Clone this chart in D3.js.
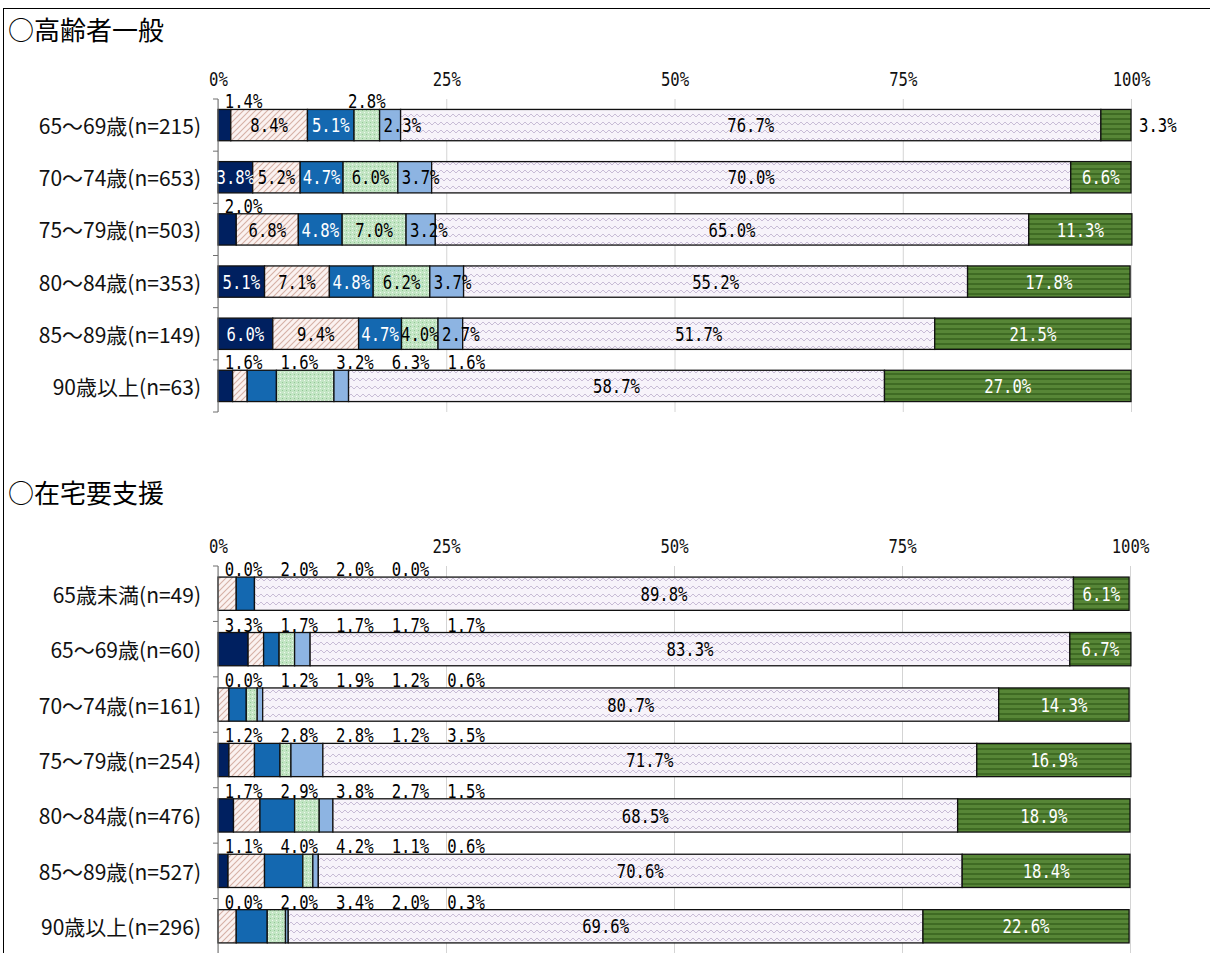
<!DOCTYPE html>
<html>
<head>
<meta charset="utf-8">
<script src="https://cdn.jsdelivr.net/npm/d3@7"></script>
<style>
    body { margin: 0; background: #fff; }
    svg { display: block; }
    .title { font-family: "Noto Sans CJK JP", sans-serif; font-size: 26px; fill: #000; }
    .cat { font-family: "Noto Sans CJK JP", sans-serif; font-size: 21px; fill: #111; }
    .num { font-family: "DejaVu Sans Mono", monospace; }
</style>
</head>
<body>
<div id="chart"></div>
<script>
// answer categories, stacked left to right
var seriesKeys = ["s1", "s2", "s3", "s4", "s5", "s6", "s7"]
var tickValues = [0, 25, 50, 75, 100]

var generalTitle = "○高齢者一般"
var generalCategories = ["65～69歳(n=215)", "70～74歳(n=653)", "75～79歳(n=503)",
    "80～84歳(n=353)", "85～89歳(n=149)", "90歳以上(n=63)"]
var generalValues = [
    [1.4, 8.4, 5.1, 2.8, 2.3, 76.7, 3.3],
    [3.8, 5.2, 4.7, 6.0, 3.7, 70.0, 6.6],
    [2.0, 6.8, 4.8, 7.0, 3.2, 65.0, 11.3],
    [5.1, 7.1, 4.8, 6.2, 3.7, 55.2, 17.8],
    [6.0, 9.4, 4.7, 4.0, 2.7, 51.7, 21.5],
    [1.6, 1.6, 3.2, 6.3, 1.6, 58.7, 27.0]
]

var supportTitle = "○在宅要支援"
var supportCategories = ["65歳未満(n=49)", "65～69歳(n=60)", "70～74歳(n=161)",
    "75～79歳(n=254)", "80～84歳(n=476)", "85～89歳(n=527)", "90歳以上(n=296)"]
var supportValues = [
    [0.0, 2.0, 2.0, 0.0, null, 89.8, 6.1],
    [3.3, 1.7, 1.7, 1.7, 1.7, 83.3, 6.7],
    [0.0, 1.2, 1.9, 1.2, 0.6, 80.7, 14.3],
    [1.2, 2.8, 2.8, 1.2, 3.5, 71.7, 16.9],
    [1.7, 2.9, 3.8, 2.7, 1.5, 68.5, 18.9],
    [1.1, 4.0, 4.2, 1.1, 0.6, 70.6, 18.4],
    [0.0, 2.0, 3.4, 2.0, 0.3, 69.6, 22.6]
]

!(function(){
    "use strict"

    var width = 1210, height = 953
    var svg = d3.select("#chart").append("svg")
        .attr("width", width).attr("height", height)

    var fills = ["#002060", "url(#pinkHatch)", "#1468b0", "url(#greenDots)",
        "#8db4e2", "url(#lavWave)", "url(#greenStripe)"]
    var labelColors = ["#fff", "#000", "#fff", "#000", "#000", "#000", "#fff"]
    var fmt = d3.format(".1f")

    makePatterns()

    // outer frame
    svg.append("rect")
        .attr("x", 3.5).attr("y", 8.5)
        .attr("width", 1230).attr("height", 1000)
        .attr("fill", "none").attr("stroke", "#000")

    // i = inside, b = inside from left edge, s = row of labels above,
    // a = above its segment, r = right of bar
    drawChart({
        title: generalTitle, titleY: 28,
        cats: generalCategories, values: generalValues,
        top: 99, bottom: 412, left: 218, right: 1131,
        modes: ["siiabir", "iiiibii", "siiibii", "iiiibii", "iiiibii", "sssssii"]
    })

    drawChart({
        title: supportTitle, titleY: 491,
        cats: supportCategories, values: supportValues,
        top: 566, bottom: 954, left: 218, right: 1130,
        modes: ["sssssii", "sssssii", "sssssii", "sssssii", "sssssii", "sssssii", "sssssii"]
    })

    function makePatterns() {
        var defs = svg.append("defs")

        var p1 = defs.append("pattern").attr("id", "pinkHatch")
            .attr("patternUnits", "userSpaceOnUse").attr("width", 6).attr("height", 6)
        p1.append("rect").attr("width", 6).attr("height", 6).attr("fill", "#fbf2f0")
        p1.append("path").attr("d", "M0,6L6,0M-1.5,1.5L1.5,-1.5M4.5,7.5L7.5,4.5")
            .attr("stroke", "#d6b1a6").attr("stroke-width", 1.1)

        var p2 = defs.append("pattern").attr("id", "greenDots")
            .attr("patternUnits", "userSpaceOnUse").attr("width", 4).attr("height", 4)
        p2.append("rect").attr("width", 4).attr("height", 4).attr("fill", "#c3e5c4")
        p2.append("rect").attr("x", 0).attr("y", 0).attr("width", 1).attr("height", 1).attr("fill", "#eef8ee")
        p2.append("rect").attr("x", 2).attr("y", 2).attr("width", 1).attr("height", 1).attr("fill", "#93c896")

        var p3 = defs.append("pattern").attr("id", "lavWave")
            .attr("patternUnits", "userSpaceOnUse").attr("width", 12).attr("height", 8)
        p3.append("rect").attr("width", 12).attr("height", 8).attr("fill", "#f7f3fa")
        p3.append("path").attr("d", "M0,5L3,2L6,5L9,2L12,5")
            .attr("fill", "none").attr("stroke", "#c8bcd6").attr("stroke-width", 1)

        var p4 = defs.append("pattern").attr("id", "greenStripe")
            .attr("patternUnits", "userSpaceOnUse").attr("width", 4).attr("height", 5)
        p4.append("rect").attr("width", 4).attr("height", 5).attr("fill", "#578637")
        p4.append("rect").attr("y", 3).attr("width", 4).attr("height", 2).attr("fill", "#3f6b24")
    }

    function numText(g, x, y, txt, size, anchor, color, dy) {
        g.append("g")
            .attr("transform", "translate(" + [x, y] + ")")
            .append("text")
            .attr("class", "num")
            .attr("transform", "scale(0.78,1)")
            .attr("font-size", size)
            .attr("text-anchor", anchor)
            .attr("dy", dy || 0)
            .attr("fill", color)
            .text(txt)
    }

    function drawChart(o) {
        var g = svg.append("g")

        g.append("text").attr("class", "title")
            .attr("x", 8).attr("y", o.titleY)
            .attr("dominant-baseline", "central")
            .text(o.title)

        var x = d3.scaleLinear().domain([0, 100]).range([o.left, o.right])
        var y = d3.scaleBand().domain(o.cats).range([o.top, o.bottom])
            .paddingInner(0.4).paddingOuter(0.2)

        // gridlines + percent labels
        var xAxis = g.append("g")
            .attr("transform", "translate(0," + o.top + ")")
            .call(d3.axisTop(x).tickValues(tickValues)
                .tickSize(-(o.bottom - o.top)).tickPadding(13)
                .tickFormat(function(d) { return d + "%" }))
        xAxis.select(".domain").remove()
        xAxis.selectAll("line").attr("stroke", "#d4d4d4")
        xAxis.selectAll("text")
            .attr("class", "num").attr("font-size", 20).attr("fill", "#111")
            .attr("transform", "scale(0.78,1)")

        // rows
        var rows = o.values.map(function(vals, r) {
            var obj = { cat: o.cats[r] }
            seriesKeys.forEach(function(k, i) { obj[k] = vals[i] })
            return obj
        })
        var stack = d3.stack().keys(seriesKeys)
            .value(function(d, k) { return d[k] || 0 })(rows)

        var layer = g.selectAll(".layer")
            .data(stack).enter().append("g").attr("class", "layer")
            .attr("fill", function(d, i) { return fills[i] })

        layer.selectAll("rect")
            .data(function(d) { return d })
            .enter().append("rect")
            .attr("x", function(d) { return x(d[0]) })
            .attr("width", function(d) { return x(d[1]) - x(d[0]) })
            .attr("y", function(d) { return y(d.data.cat) })
            .attr("height", y.bandwidth())
            .attr("stroke", "#111")
            .attr("stroke-width", 1.3)

        // category axis
        var axisG = g.append("g").attr("stroke", "#6f6f6f").attr("stroke-width", 1)
        axisG.append("line")
            .attr("x1", x(0)).attr("x2", x(0))
            .attr("y1", o.top).attr("y2", o.bottom)
        d3.range(o.cats.length + 1).forEach(function(i) {
            var yy = o.top + i * y.step()
            axisG.append("line")
                .attr("x1", x(0) - 5).attr("x2", x(0))
                .attr("y1", yy).attr("y2", yy)
        })

        g.selectAll(".cat")
            .data(o.cats).enter().append("text")
            .attr("class", "cat")
            .attr("x", 201)
            .attr("y", function(d) { return y(d) + y.bandwidth() / 2 })
            .attr("dominant-baseline", "central")
            .attr("text-anchor", "end")
            .text(function(d) { return d })

        // value labels
        var labelG = g.append("g")
        stack.forEach(function(s, i) {
            s.forEach(function(d, r) {
                var v = o.values[r][i]
                if (v === null) return
                var mode = o.modes[r].charAt(i)
                var txt = fmt(v) + "%"
                var yTop = y(d.data.cat)
                var yMid = yTop + y.bandwidth() / 2
                var cx = (x(d[0]) + x(d[1])) / 2
                if (mode === "i") {
                    numText(labelG, cx, yMid, txt, 20, "middle", labelColors[i], "0.36em")
                } else if (mode === "b") {
                    numText(labelG, x(d[0]) + 4, yMid, txt, 20, "start", labelColors[i], "0.36em")
                } else if (mode === "s") {
                    numText(labelG, x(2.8 + 6.1 * i), yTop - 1, txt, 20, "middle", "#000")
                } else if (mode === "a") {
                    numText(labelG, cx, yTop - 1, txt, 20, "middle", "#000")
                } else if (mode === "r") {
                    numText(labelG, x(100) + 8, yMid, txt, 20, "start", "#000", "0.36em")
                }
            })
        })
    }
}());
</script>
</body>
</html>
